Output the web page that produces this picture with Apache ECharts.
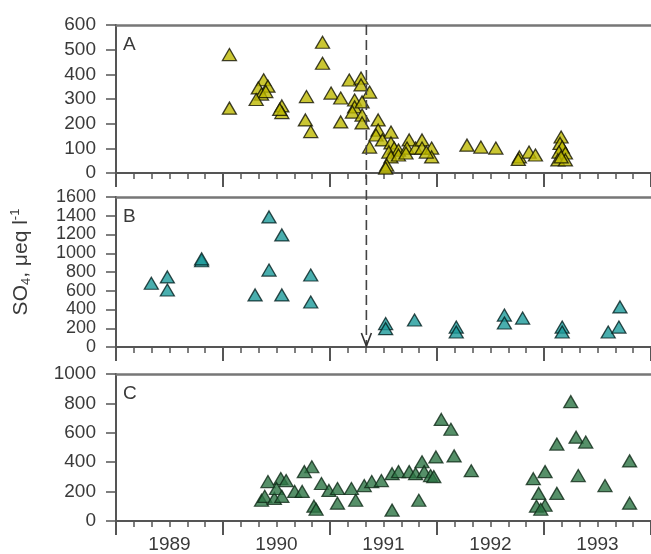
<!DOCTYPE html>
<html>
<head>
<meta charset="utf-8">
<script src="https://cdn.jsdelivr.net/npm/echarts@6.0.0/dist/echarts.min.js"></script>
<style>html,body{margin:0;padding:0;background:#fff}#c{width:651px;height:554px}</style>
</head>
<body>
<div id="c"></div>
<script>
// ---- data (decimal year, SO4 µeq/l) ----
var panelA = [
  [1990.06,480],[1990.06,263],
  [1990.38,378],[1990.33,345],[1990.42,352],[1990.36,320],[1990.31,298],[1990.40,330],
  [1990.55,272],[1990.55,245],[1990.53,258],
  [1990.78,310],[1990.77,215],[1990.82,168],
  [1990.93,530],[1990.93,445],
  [1991.01,324],[1991.10,304],[1991.18,377],[1991.29,385],[1991.29,357],[1991.37,328],
  [1991.23,296],[1991.23,268],[1991.21,247],[1991.30,288],[1991.30,235],[1991.30,203],
  [1991.10,207],[1991.45,215],[1991.45,174],[1991.37,105],[1991.43,154],[1991.57,166],
  [1991.49,134],[1991.57,122],[1991.60,101],[1991.55,85],[1991.64,93],[1991.57,65],
  [1991.53,32],[1991.52,20],[1991.74,134],[1991.72,101],[1991.80,101],[1991.86,134],
  [1991.86,101],[1991.95,101],[1991.95,65],[1991.90,85],[1991.64,73],[1991.71,81],
  [1992.28,113],[1992.41,105],[1992.55,101],[1992.77,65],[1992.76,55],[1992.86,85],[1992.92,73],
  [1993.16,146],[1993.15,120],[1993.17,105],[1993.14,85],[1993.20,81],[1993.13,53],[1993.20,53],[1993.16,65]
];
var panelB = [
  [1989.33,680],[1989.48,747],[1989.48,608],[1989.80,920],[1989.80,940],
  [1990.43,1387],[1990.55,1195],[1990.43,821],[1990.30,555],[1990.55,555],[1990.82,768],[1990.82,480],
  [1991.52,250],[1991.52,195],[1991.79,288],[1992.18,213],[1992.18,160],
  [1992.63,341],[1992.63,256],[1992.80,309],[1993.17,213],[1993.17,160],
  [1993.60,160],[1993.70,213],[1993.71,427]
];
var panelC = [
  [1990.36,141],[1990.42,268],[1990.39,168],[1990.48,154],[1990.54,289],[1990.59,275],[1990.50,221],
  [1990.55,168],[1990.67,201],[1990.74,201],[1990.83,369],[1990.76,336],[1990.85,101],[1990.87,80],
  [1990.92,255],[1990.99,208],[1991.07,221],[1991.07,121],[1991.20,221],[1991.24,141],
  [1991.32,241],[1991.39,268],[1991.48,275],[1991.58,322],[1991.64,336],[1991.74,336],
  [1991.80,322],[1991.86,403],[1991.88,336],[1991.94,309],[1991.97,302],[1991.99,436],
  [1991.58,74],[1991.83,141],
  [1992.04,691],[1992.13,624],[1992.16,443],[1992.32,342],
  [1992.90,288],[1993.01,336],[1992.95,188],[1992.93,101],[1993.01,107],[1992.97,80],
  [1993.12,523],[1993.12,188],[1993.25,812],[1993.30,570],[1993.39,537],[1993.32,309],
  [1993.57,241],[1993.80,409],[1993.80,121]
];
var eventYear = 1991.34;
var panelLetters = ['A','B','C'];
var yMax = [600, 1600, 1000];
var yStep = [100, 200, 200];
var xMin = 1989, xMax = 1994;

var fills = ['#bdb800', '#1c9a9a', '#2c7443'];
var borders = ['#111100', '#041f1f', '#0f2a18'];
var axisCol = '#555';
var textCol = '#3a3a3a';
var font = 'Liberation Sans, Arial, sans-serif';

var grids = [
  {left:116, top:25, width:537, height:148},
  {left:116, top:197, width:537, height:150},
  {left:116, top:374, width:537, height:149}
];

var xAxes = [], yAxes = [], series = [];
var datasets = [panelA, panelB, panelC];
for (var i = 0; i < 3; i++) {
  xAxes.push({
    type:'value', gridIndex:i, min:xMin, max:xMax, interval:1, position:'bottom',
    axisLine:{show:true, onZero:false, lineStyle:{color:axisCol, width:2}},
    axisTick:{show:true, length:14, lineStyle:{color:axisCol, width:2}},
    minorTick:{show:true, splitNumber:6, length:6, lineStyle:{color:axisCol, width:1.5}},
    axisLabel:{show:false}, splitLine:{show:false}
  });
  yAxes.push({
    type:'value', gridIndex:i, min:0, max:yMax[i], interval:yStep[i],
    axisLine:{show:true, lineStyle:{color:axisCol, width:2}},
    axisTick:{show:true, length:10, lineStyle:{color:axisCol, width:1.5}},
    axisLabel:{color:textCol, fontSize: i===1 ? 18 : 19, fontFamily:font, margin:20,
      formatter:function(v){ return String(v); }},
    splitLine:{show:false}
  });
  series.push({
    type:'scatter', xAxisIndex:i, yAxisIndex:i, data:datasets[i],
    symbol:'triangle', symbolSize:[14,12],
    itemStyle:{color:fills[i], borderColor:borders[i], borderWidth:1.3},
    z: 3
  });
}
for (var j = 0; j < 3; j++) {
  xAxes.push({
    type:'value', gridIndex:j, min:xMin, max:xMax, interval:1, position:'top',
    axisLine:{show:true, onZero:false, lineStyle:{color:'#777', width:2.5}},
    axisTick:{show:false}, axisLabel:{show:false}, splitLine:{show:false}
  });
}
// year labels centred within each year
xAxes.push({
  type:'value', gridIndex:2, min:xMin, max:xMax, interval:0.5, position:'bottom',
  axisLine:{show:false}, axisTick:{show:false}, splitLine:{show:false},
  axisLabel:{show:true, color:textCol, fontSize:19, fontFamily:font, margin:14,
    showMinLabel:false, showMaxLabel:false,
    formatter:function(v){ return (Math.abs(v % 1 - 0.5) < 1e-6) ? String(Math.floor(v)) : ''; }}
});

var graphics = [];
for (var k = 0; k < 3; k++) {
  graphics.push({type:'text', left: grids[k].left + 7, top: grids[k].top + 10,
    style:{text:panelLetters[k], fill:textCol, fontSize:19, fontFamily:font}});
}
graphics.push({
  type:'text', x:21, y:262, rotation:Math.PI/2,
  style:{
    text:'SO{sub|4}, μeq l{sup|-1}', fill:textCol, fontSize:21, fontFamily:font,
    align:'center', verticalAlign:'middle',
    rich:{
      sub:{fontSize:13, fontFamily:font, fill:textCol, padding:[11,0,0,0]},
      sup:{fontSize:13, fontFamily:font, fill:textCol, padding:[0,0,11,0]}
    }
  }
});

var chart = echarts.init(document.getElementById('c'), null, {renderer:'canvas'});
chart.setOption({
  animation:false,
  backgroundColor:'#fff',
  grid:grids,
  xAxis:xAxes,
  yAxis:yAxes,
  series:series,
  graphic:graphics
});

var pTop = chart.convertToPixel({gridIndex:0}, [eventYear, yMax[0]]);
var pBot = chart.convertToPixel({gridIndex:1}, [eventYear, 0]);
graphics.push({
  type:'line', z:10,
  shape:{x1:pTop[0], y1:pTop[1], x2:pBot[0], y2:pBot[1] - 1},
  style:{stroke:'#444', lineWidth:1.6, lineDash:[10,5]}
});
graphics.push({
  type:'polyline', z:10,
  shape:{points:[[pBot[0]-5, pBot[1]-14],[pBot[0], pBot[1]-1],[pBot[0]+5, pBot[1]-14]]},
  style:{stroke:'#333', lineWidth:1.6, fill:null}
});
chart.setOption({graphic:graphics}, {replaceMerge:['graphic']});
</script>
</body>
</html>
